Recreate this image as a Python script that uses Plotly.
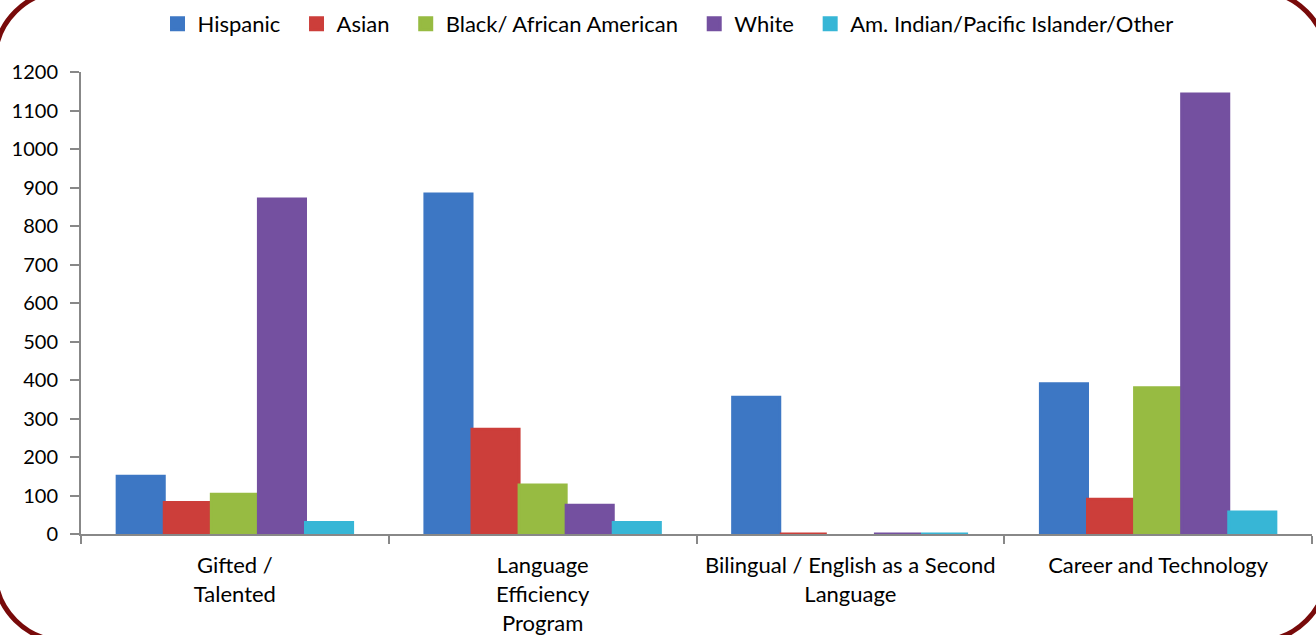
import plotly.graph_objects as go

# Program categories (x axis) and enrollment counts per group
categories = [
    "Gifted /<br>Talented",
    "Language<br>Efficiency<br>Program",
    "Bilingual / English as a Second<br>Language",
    "Career and Technology",
]
hispanic = [150, 883, 355, 390]
asian = [82, 272, 0, 90]
black = [103, 127, None, 380]
white = [870, 75, 0, 1143]
other = [30, 30, 0, 57]

series = [
    ("Hispanic", hispanic, "#3d77c4"),
    ("Asian", asian, "#cc3e3a"),
    ("Black/ African American", black, "#97bb42"),
    ("White", white, "#7450a0"),
    ("Am. Indian/Pacific Islander/Other", other, "#37b6d6"),
]

y_ticks = list(range(0, 1201, 100))

W, H = 1316, 635
ML, MR, MT, MB = 81, 4, 72, 101
PW, PH = W - ML - MR, H - MT - MB

FONT = "Lato, 'Open Sans', sans-serif"
PAD = "\u00a0\u00a0"

fig = go.Figure()
for i, (name, vals, color) in enumerate(series):
    label = name + (PAD if i < len(series) - 1 else "")
    fig.add_trace(go.Bar(
        name=label,
        x=categories,
        y=vals,
        marker=dict(color=color, line=dict(color=color, width=3)),
    ))


def px(x, y):
    """Convert a page pixel position to paper coordinates."""
    return (x - ML) / PW, (H - MB - y) / PH


def rounded_frame(left, top, right, bottom, r):
    k = 0.5523 * r

    def P(x, y):
        a, b = px(x, y)
        return f"{a:.5f},{b:.5f}"

    d = f"M{P(left + r, top)} L{P(right - r, top)} "
    d += f"C{P(right - r + k, top)} {P(right, top + r - k)} {P(right, top + r)} "
    d += f"L{P(right, bottom - r)} "
    d += f"C{P(right, bottom - r + k)} {P(right - r + k, bottom)} {P(right - r, bottom)} "
    d += f"L{P(left + r, bottom)} "
    d += f"C{P(left + r - k, bottom)} {P(left, bottom - r + k)} {P(left, bottom - r)} "
    d += f"L{P(left, top + r)} "
    d += f"C{P(left, top + r - k)} {P(left + r - k, top)} {P(left + r, top)} Z"
    return d


fig.add_shape(
    type="path",
    xref="paper",
    yref="paper",
    path=rounded_frame(-5, -9, 1327, 641, 70),
    line=dict(color="#780a0a", width=5),
    layer="above",
)

fig.update_layout(
    width=W,
    height=H,
    margin=dict(l=ML, r=MR, t=MT, b=MB, autoexpand=False),
    paper_bgcolor="white",
    plot_bgcolor="white",
    barmode="group",
    bargap=0.235,
    bargroupgap=0,
    font=dict(family=FONT, size=20, color="#000000"),
    showlegend=True,
    legend=dict(
        orientation="h",
        x=(668 - ML) / PW,
        xanchor="center",
        y=(H - MB - 24) / PH,
        yanchor="middle",
        font=dict(family=FONT, size=22, color="#000000"),
        itemclick=False,
        bgcolor="rgba(0,0,0,0)",
    ),
    xaxis=dict(
        automargin=False,
        showline=True,
        linecolor="#888888",
        linewidth=2,
        ticks="outside",
        tickson="boundaries",
        ticklen=8,
        tickcolor="#888888",
        tickwidth=2,
        showgrid=False,
        tickangle=0,
        tickfont=dict(family=FONT, size=22, color="#000000"),
        ticklabelstandoff=11,
    ),
    yaxis=dict(
        automargin=False,
        range=[0, 1200],
        tickvals=y_ticks,
        showline=True,
        linecolor="#888888",
        linewidth=2,
        ticks="outside",
        ticklen=9,
        tickcolor="#888888",
        tickwidth=2,
        showgrid=False,
        zeroline=False,
        tickfont=dict(family=FONT, size=20, color="#000000"),
        ticklabelstandoff=8,
    ),
)

fig.write_html("out.html")
